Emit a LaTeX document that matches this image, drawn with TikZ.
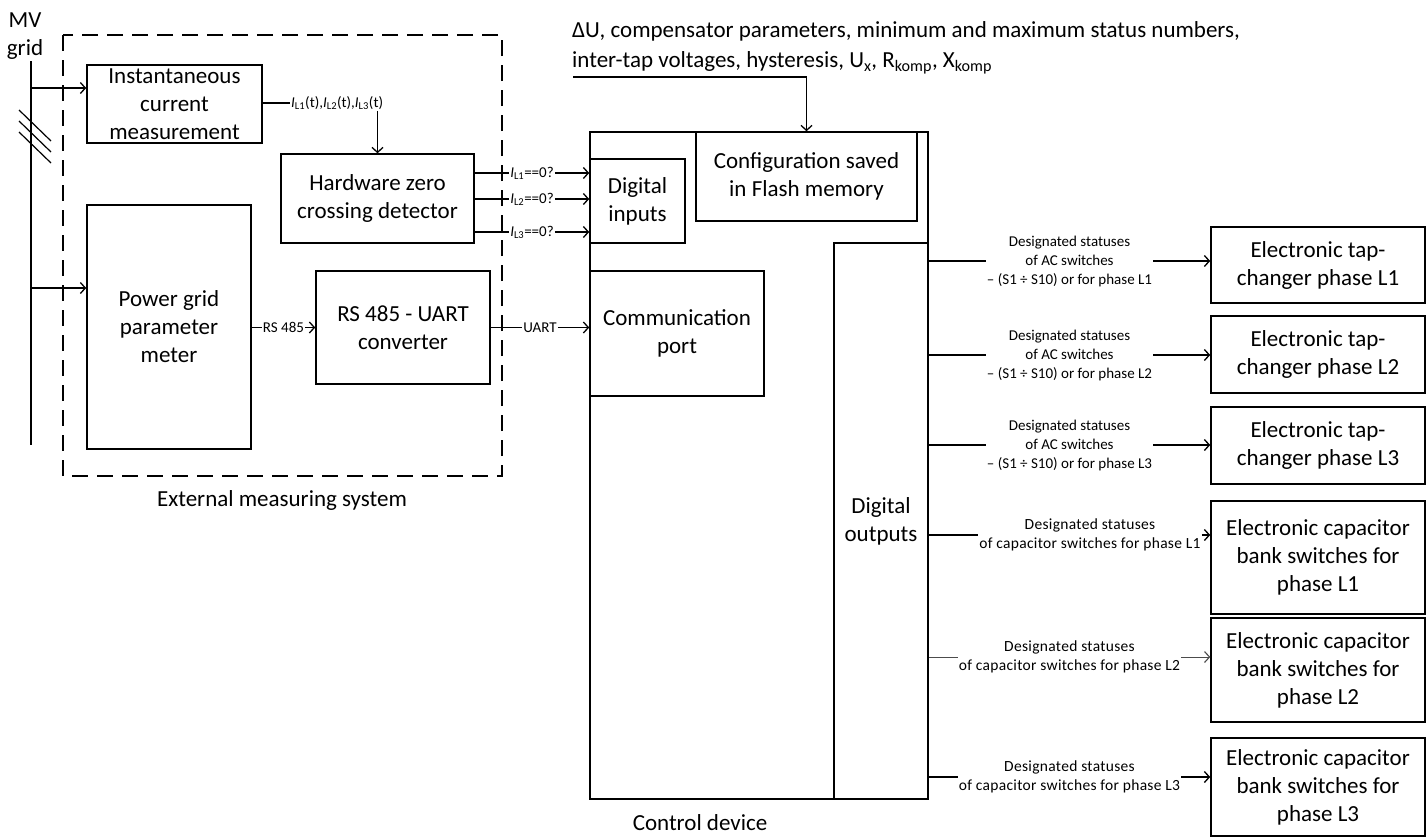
\documentclass[tikz,border=0pt]{standalone}
\usepackage{fontspec}
\setmainfont{Carlito}
\usetikzlibrary{arrows.meta}
\newcommand\bigf{\fontsize{23}{28}\selectfont}
\newcommand\smallf{\fontsize{15}{19}\selectfont}
\newcommand\capf{\fontsize{15.5}{19}\selectfont\addfontfeature{LetterSpace=2}}
\tikzset{
  blk/.style={draw, line width=1.5pt, align=center, inner sep=0pt, font=\bigf},
  lbl/.style={inner sep=1pt, align=center, font=\smallf},
  wire/.style={line width=1.4pt},
  thinwire/.style={line width=0.8pt, draw=black!70},
  arr/.style={wire, -{Straight Barb[length=5pt,width=11pt,line width=1.3pt]}},
  thinarr/.style={thinwire, -{Straight Barb[length=5pt,width=11pt,line width=1.1pt]}},
  dashbox/.style={line width=1.4pt, dash pattern=on 16pt off 9pt},
}
\begin{document}
\begin{tikzpicture}[x=1pt, y=-1pt]
\useasboundingbox (0,0) rectangle (1427,839);

% ---------- external measuring system ----------
\draw[dashbox] (63,35) rectangle (502,476);
\node[font=\bigf] (ext) at (282,500) {External measuring system};

\node[blk, minimum width=175pt, minimum height=78pt] (inst) at (174.5,104) {Instantaneous\\current\\measurement};
\node[blk, minimum width=164pt, minimum height=244pt] (pgm) at (169,327) {Power grid\\parameter\\meter};
\node[blk, minimum width=193pt, minimum height=89pt] (hzc) at (377.5,198.5) {Hardware zero\\crossing detector};
\node[blk, minimum width=174pt, minimum height=113pt] (rsu) at (403,327.5) {RS 485 - UART\\converter};

% ---------- MV grid feeder ----------
\node[font=\bigf, align=center, inner sep=0pt] (mv) at (25,36) {MV\\grid};
\coordinate (mvtop) at (31,61);
\coordinate (mvbot) at (31,445);
\coordinate (tapA) at (31,88);
\coordinate (tapB) at (31,288);
\draw[wire] (mvtop) -- (mvbot);
\draw[arr] (tapA) -- (tapA -| inst.west);
\draw[arr] (tapB) -- (tapB -| pgm.west);
% three-phase marks
\foreach \d in {0,11,22}
  \draw[line width=1.2pt] (19,110+\d) -- (51,141+\d);

% ---------- control device ----------
\node[blk, minimum width=338pt, minimum height=667pt] (ctrl) at (759,465.5) {};
\node[font=\bigf] (ctrllab) at (700,823) {Control device};
\node[blk, minimum width=95pt, minimum height=84pt] (din) at (637.5,201) {Digital\\inputs};
\node[blk, minimum width=221pt, minimum height=89pt] (cfg) at (806.5,176.5) {Configuration saved\\in Flash memory};
\node[blk, minimum width=174pt, minimum height=125pt] (com) at (677,333.5) {Communication\\port};
\node[blk, minimum width=94pt, minimum height=556pt] (dout) at (881,521) {Digital\\outputs};

% ---------- configuration parameters ----------
\node[anchor=west, align=left, inner sep=0pt, font=\fontsize{23}{30}\selectfont] (param) at (572,48)
  {ΔU, compensator parameters, minimum and maximum status numbers,\\inter-tap voltages, hysteresis, U\textsubscript{x}, R\textsubscript{komp}, X\textsubscript{komp}};
\coordinate (pin) at (573,77);
\draw[arr] (pin) -| (cfg.north);

% ---------- signals inside the measuring system ----------
\node[lbl, anchor=west] (ilab) at (290,103) {\textit{I}\textsubscript{L1}(t),\textit{I}\textsubscript{L2}(t),\textit{I}\textsubscript{L3}(t)};
\draw[wire] (ilab.west -| inst.east) -- (ilab.west);
\draw[arr] (ilab.south -| hzc.north) -- (hzc.north);

\node[lbl] (rs) at (283.5,327.5) {RS 485};
\draw[wire] (rs.west -| pgm.east) -- (rs.west);
\draw[arr] (rs.east) -- (rs.east -| rsu.west);

\node[lbl] (uart) at (540,327.5) {UART};
\draw[wire] (rsu.east) -- (uart.west);
\draw[arr] (uart.east) -- (uart.east -| com.west);

\foreach \n/\y in {1/173,2/199,3/232}{
  \node[lbl] (z\n) at (532,\y) {\textit{I}\textsubscript{L\n}==0?};
  \draw[wire] (z\n.west -| hzc.east) -- (z\n.west);
  \draw[arr] (z\n.east) -- (z\n.east -| din.west);
}

% ---------- actuators ----------
\node[blk, minimum width=214pt, minimum height=76pt] (tap1) at (1318,265) {Electronic tap-\\changer phase L1};
\node[blk, minimum width=214pt, minimum height=77pt] (tap2) at (1318,354.5) {Electronic tap-\\changer phase L2};
\node[blk, minimum width=214pt, minimum height=77pt] (tap3) at (1318,445.5) {Electronic tap-\\changer phase L3};
\node[blk, minimum width=214pt, minimum height=113pt] (cap1) at (1318,557.5) {Electronic capacitor\\bank switches for\\phase L1};
\node[blk, minimum width=214pt, minimum height=104pt] (cap2) at (1318,670) {Electronic capacitor\\bank switches for\\phase L2};
\node[blk, minimum width=214pt, minimum height=98pt] (cap3) at (1318,787) {Electronic capacitor\\bank switches for\\phase L3};

\foreach \n/\y in {1/261,2/355,3/445}{
  \node[lbl] (s\n) at (1069.5,\y) {Designated statuses\\of AC switches\\– (S1 ÷ S10) or for phase L\n};
  \draw[wire] (s\n.west -| dout.east) -- (s\n.west);
  \draw[arr] (s\n.east) -- (s\n.east -| tap\n.west);
}

\node[lbl, font=\capf] (c1) at (1090,535) {Designated statuses\\of capacitor switches for phase L1};
\draw[wire] (c1.west -| dout.east) -- (c1.west);
\draw[arr] (c1.east) -- (c1.east -| cap1.west);

\node[lbl, font=\capf] (c2) at (1069.5,657) {Designated statuses\\of capacitor switches for phase L2};
\draw[thinwire] (c2.west -| dout.east) -- (c2.west);
\draw[thinarr] (c2.east) -- (c2.east -| cap2.west);

\node[lbl, font=\capf] (c3) at (1069.5,777) {Designated statuses\\of capacitor switches for phase L3};
\draw[wire] (c3.west -| dout.east) -- (c3.west);
\draw[arr] (c3.east) -- (c3.east -| cap3.west);
\end{tikzpicture}
\end{document}
